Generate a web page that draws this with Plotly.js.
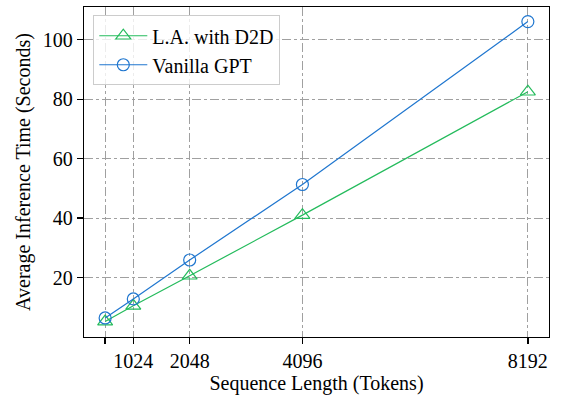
<!DOCTYPE html>
<html>
<head>
<script src="https://cdn.plot.ly/plotly-3.0.1.min.js"></script>
<style>body{margin:0;padding:0;background:#fff}#chart{width:562px;height:398px}</style>
</head>
<body>
<div id="chart"></div>
<script>
const seqLen = [512, 1024, 2048, 4096, 8192];
const laD2D = [5.2, 10.5, 20.6, 41.0, 82.5];
const vanillaGPT = [6.4, 12.8, 25.9, 51.3, 106.1];
const xTickVals = [512, 1024, 2048, 4096, 8192];
const xTickText = ['', '1024', '2048', '4096', '8192'];
const yTickVals = [20, 40, 60, 80, 100];

const font = 'Liberation Serif';

const traces = [
  {x: seqLen, y: laD2D, name: 'L.A. with D2D', mode: 'lines+markers',
   line: {color: '#24bb5c', width: 1.2},
   marker: {symbol: 'triangle-up-open', size: 13, color: '#24bb5c', line: {width: 1.2}}},
  {x: seqLen, y: vanillaGPT, name: 'Vanilla GPT', mode: 'lines+markers',
   line: {color: '#1f76cf', width: 1.2},
   marker: {symbol: 'circle-open', size: 12, color: '#1f76cf', line: {width: 1.2}}}
];

const layout = {
  width: 562, height: 398,
  margin: {l: 84, r: 13, t: 7, b: 61},
  paper_bgcolor: '#fff', plot_bgcolor: '#fff',
  font: {family: font, size: 20, color: '#000'},
  showlegend: true,
  legend: {x: 0.02, y: 0.975, xanchor: 'left', yanchor: 'top',
    bgcolor: 'rgba(255,255,255,0.8)', bordercolor: '#cccccc', borderwidth: 1,
    itemwidth: 48,
    font: {family: font, size: 20, color: '#000'}, tracegroupgap: 0},
  xaxis: {
    range: [128, 8576], tickvals: xTickVals, ticktext: xTickText,
    tickfont: {family: font, size: 20, color: '#000'},
    showline: true, linecolor: '#000', linewidth: 1.3, mirror: true,
    ticks: 'outside', ticklen: 6, tickwidth: 1.3, tickcolor: '#000',
    showgrid: true, gridcolor: '#a0a0a0', gridwidth: 1, griddash: 'dashdot',
    zeroline: false,
    title: {text: 'Sequence Length (Tokens)', font: {family: font, size: 20, color: '#000'}, standoff: 4}
  },
  yaxis: {
    range: [0, 111], tickvals: yTickVals,
    tickfont: {family: font, size: 20, color: '#000'},
    showline: true, linecolor: '#000', linewidth: 1.3, mirror: true,
    ticks: 'outside', ticklen: 6, tickwidth: 1.3, tickcolor: '#000',
    showgrid: true, gridcolor: '#a0a0a0', gridwidth: 1, griddash: 'dashdot',
    zeroline: false,
    title: {text: 'Average Inference Time (Seconds)', font: {family: font, size: 20, color: '#000'}, standoff: 6}
  }
};

Plotly.newPlot('chart', traces, layout, {displayModeBar: false, staticPlot: true});
</script>
</body>
</html>
